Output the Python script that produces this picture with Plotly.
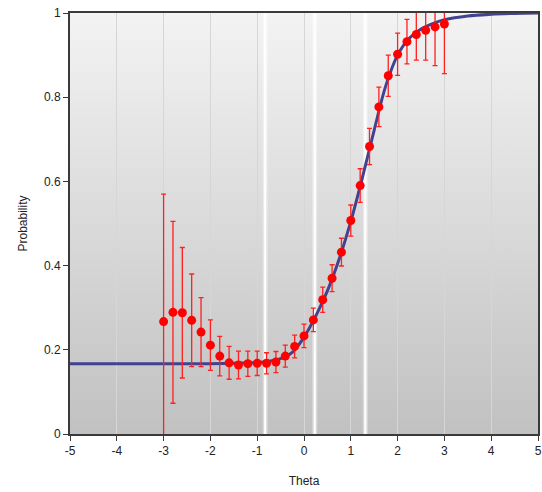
import plotly.graph_objects as go

# observed proportions with error bars
theta_obs = [-3.0, -2.8, -2.6, -2.4, -2.2, -2.0, -1.8, -1.6, -1.4, -1.2, -1.0,
             -0.8, -0.6, -0.4, -0.2, 0.0, 0.2, 0.4, 0.6, 0.8, 1.0,
             1.2, 1.4, 1.6, 1.8, 2.0, 2.2, 2.4, 2.6, 2.8, 3.0]
p_obs = [0.267, 0.289, 0.288, 0.270, 0.242, 0.211, 0.185, 0.169, 0.164, 0.167, 0.168,
         0.168, 0.171, 0.185, 0.208, 0.233, 0.271, 0.319, 0.370, 0.432, 0.507,
         0.590, 0.683, 0.777, 0.851, 0.902, 0.932, 0.949, 0.959, 0.967, 0.974]
err_obs = [0.303, 0.216, 0.155, 0.110, 0.082, 0.060, 0.047, 0.039, 0.033, 0.030, 0.029,
           0.025, 0.025, 0.026, 0.027, 0.028, 0.028, 0.030, 0.032, 0.033, 0.037,
           0.040, 0.043, 0.047, 0.049, 0.050, 0.053, 0.061, 0.071, 0.092, 0.118]

# model curve
theta_curve = [-5.0, -4.0, -3.0, -2.0, -1.5, -1.0, -0.75, -0.5, -0.25, 0.0, 0.25,
               0.5, 0.75, 1.0, 1.25, 1.5, 1.75, 2.0, 2.25, 2.5, 2.75, 3.0,
               3.5, 4.0, 4.5, 5.0]
p_curve = [0.167, 0.167, 0.167, 0.167, 0.168, 0.170, 0.173, 0.179, 0.194, 0.230, 0.280,
           0.340, 0.415, 0.505, 0.610, 0.722, 0.828, 0.900, 0.940, 0.962, 0.975, 0.984,
           0.993, 0.997, 0.999, 1.0]

# highlighted theta positions (white lines)
ref_lines = [-0.83, 0.23, 1.31]

x_ticks = [-5, -4, -3, -2, -1, 0, 1, 2, 3, 4, 5]
x_tick_text = ["-5", "-4", "-3", "-2", "-1", "0", "1", "2", "3", "4", "5"]
y_ticks = [0, 0.2, 0.4, 0.6, 0.8, 1]
y_tick_text = ["0", "0.2", "0.4", "0.6", "0.8", "1"]

FONT = "Liberation Sans, Arial, sans-serif"

grad_svg = (
    "data:image/svg+xml;utf8,"
    "<svg xmlns='http://www.w3.org/2000/svg' width='100' height='100' preserveAspectRatio='none'>"
    "<defs><linearGradient id='g' x1='0' y1='0' x2='0' y2='1'>"
    "<stop offset='0' stop-color='%23f3f3f3'/><stop offset='1' stop-color='%23c1c1c1'/>"
    "</linearGradient></defs><rect width='100' height='100' fill='url(%23g)'/></svg>"
)

fig = go.Figure()

fig.add_trace(go.Scatter(
    x=theta_curve, y=p_curve, mode="lines",
    line=dict(color="#42428f", width=3, shape="spline", smoothing=1.0),
    hoverinfo="skip", showlegend=False,
))

fig.add_trace(go.Scatter(
    x=theta_obs, y=p_obs, mode="markers",
    marker=dict(color="#ff0000", size=9),
    error_y=dict(type="data", array=err_obs, color="#ff2020", thickness=1.3, width=2.5),
    showlegend=False,
))

for xv in ref_lines:
    fig.add_shape(type="line", xref="x", yref="paper", x0=xv, x1=xv, y0=0, y1=1,
                  line=dict(color="rgba(255,255,255,0.4)", width=5), layer="below")
    fig.add_shape(type="line", xref="x", yref="paper", x0=xv, x1=xv, y0=0, y1=1,
                  line=dict(color="#ffffff", width=2), layer="below")

fig.add_layout_image(dict(
    source=grad_svg, xref="paper", yref="paper", x=0, y=1, sizex=1, sizey=1,
    sizing="stretch", layer="below", xanchor="left", yanchor="top",
))

axis_common = dict(
    showline=True, linecolor="#3a3a3a", linewidth=2, mirror=True,
    ticks="outside", ticklen=5, tickcolor="#3a3a3a", tickwidth=1,
    zeroline=False, tickfont=dict(family=FONT, size=12, color="#222222"),
    ticklabeloverflow="allow",
)

fig.update_xaxes(
    range=[-5, 5], tickvals=x_ticks, ticktext=x_tick_text,
    showgrid=True, gridcolor="#d6d6d6", gridwidth=1,
    title=dict(text="Theta", font=dict(family=FONT, size=12, color="#222222"), standoff=19),
    automargin=False,
    **axis_common,
)
fig.update_yaxes(
    range=[0, 1], tickvals=y_ticks, ticktext=y_tick_text, showgrid=False,
    title=dict(text="Probability", font=dict(family=FONT, size=12, color="#222222"), standoff=14),
    automargin=False,
    **axis_common,
)

fig.update_layout(
    width=542, height=492,
    margin=dict(l=70, r=4, t=13, b=58),
    paper_bgcolor="#ffffff", plot_bgcolor="rgba(0,0,0,0)",
    font=dict(family=FONT, size=12, color="#222222"),
)

fig.write_html(
    "out.html",
    config={"displayModeBar": False},
    post_script=(
        "document.body.style.margin='0';"
        "document.body.style.overflow='hidden';"
        "document.documentElement.style.overflow='hidden';"
    ),
)
